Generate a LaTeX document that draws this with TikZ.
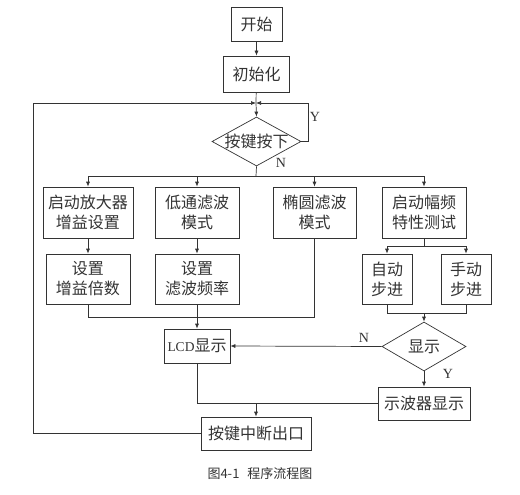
\documentclass[tikz,border=0pt]{standalone}
\usepackage{fontspec}
\setmainfont{Liberation Serif}
\newfontfamily\cjk{Noto Sans CJK SC}
\usepackage{tikz}
\usetikzlibrary{arrows.meta,shapes.geometric}
\tikzset{
>={Latex[length=5pt,width=4pt]}, % small filled arrow heads
box/.style={rectangle, draw, inner sep=0pt, align=center, font=\cjk\fontsize{16}{20}\selectfont}, % process steps
decision/.style={diamond, draw, inner sep=0pt, font=\cjk\fontsize{16}{20}\selectfont}, % tests
tag/.style={inner sep=0pt, font=\fontsize{14}{16}\selectfont}, % Y and N on the branches
}

\begin{document}
\begin{tikzpicture}[x=1pt, y=1pt, line width=0.7pt, color=black!80]
		\useasboundingbox (0,0) rectangle (520,-495);
		\node[box, minimum width=51, minimum height=34] (start) at (256.5,-24) {开始};
		\node[box, below of=start, node distance=50pt, minimum width=66, minimum height=36] (init) {初始化};
		\node[decision, below of=init, node distance=67.5pt, minimum width=89, minimum height=49] (key) {\makebox[0pt]{按键按下}};
		\node[box, minimum width=90, minimum height=51] (b1) at (88,-212.5) {启动放大器\\增益设置};
		\node[box, right of=b1, node distance=109pt, minimum width=84, minimum height=51] (b2) {低通滤波\\模式};
		\node[box, right of=b2, node distance=117.5pt, minimum width=83, minimum height=51] (b3) {椭圆滤波\\模式};
		\node[box, right of=b3, node distance=109.5pt, minimum width=84, minimum height=51] (b4) {启动幅频\\特性测试};
		\node[box, below of=b1, node distance=66.5pt, minimum width=84, minimum height=50] (c1) {设置\\增益倍数};
		\node[box, below of=b2, node distance=66.5pt, minimum width=84, minimum height=50] (c2) {设置\\滤波频率};
		\node[box, minimum width=50, minimum height=50] (auto) at (387,-279) {自动\\步进};
		\node[box, right of=auto, node distance=79pt, minimum width=50, minimum height=50] (manual) {手动\\步进};
		\node[decision, minimum width=84, minimum height=49] (disp) at (424,-346.5) {\makebox[0pt]{显示}};
		\node[box, minimum width=66, minimum height=34] (lcd) at (197,-346) {{\rmfamily\fontsize{13.5}{16}\selectfont LCD}显示};
		\node[box, below of=disp, node distance=57pt, minimum width=92, minimum height=33] (osc) {示波器显示};
		\node[box, minimum width=110, minimum height=33] (exit) at (256,-433.5) {按键中断出口};
		\node[font=\cjk\fontsize{13}{15}\selectfont] (caption) at (260,-474) {图4-1\hspace{8pt}程序流程图};
		\coordinate (join) at (256,-103);
		\coordinate (bus) at (256,-176);
		\coordinate (merge) at (197,-317);
		\coordinate (split) at (424,-246);
		\coordinate (steps) at (424,-313);
		\coordinate (out) at (256,-403.5);
		\draw[->] (start) -- (init);
		\draw (init) -- (join);
		\draw[->] (exit.west) -- ++(-167,0) |- (join);
		\draw[->] (key.east) -- ++(7,0) |- (join);
		\draw[->] (join) -- (key.north);
		\draw (key.south) -- (bus);
		\foreach \n in {b1,b2,b3,b4}
			\draw[->] (bus) -| (\n.north);
		\draw[->] (b1) -- (c1);
		\draw[->] (b2) -- (c2);
		\draw (c1.south) |- (merge);
		\draw (b3.south) |- (merge);
		\draw[->] (c2.south) -- (lcd.north);
		\draw (b4.south) -- (split);
		\draw[->] (split) -| (auto.north);
		\draw[->] (split) -| (manual.north);
		\draw (auto.south) |- (steps);
		\draw (manual.south) |- (steps);
		\draw[->] (steps) -- (disp.north);
		\draw[->] (disp.west) -- (lcd.east);
		\draw[->] (disp.south) -- (osc.north);
		\draw (lcd.south) |- (osc.west);
		\draw[->] (out) -- (exit.north);
		\node[tag] (y1) at (315,-117) {Y};
		\node[tag] (n1) at (281,-163) {N};
		\node[tag] (n2) at (364,-338) {N};
		\node[tag] (y2) at (448,-374) {Y};
	\end{tikzpicture}
\end{document}
